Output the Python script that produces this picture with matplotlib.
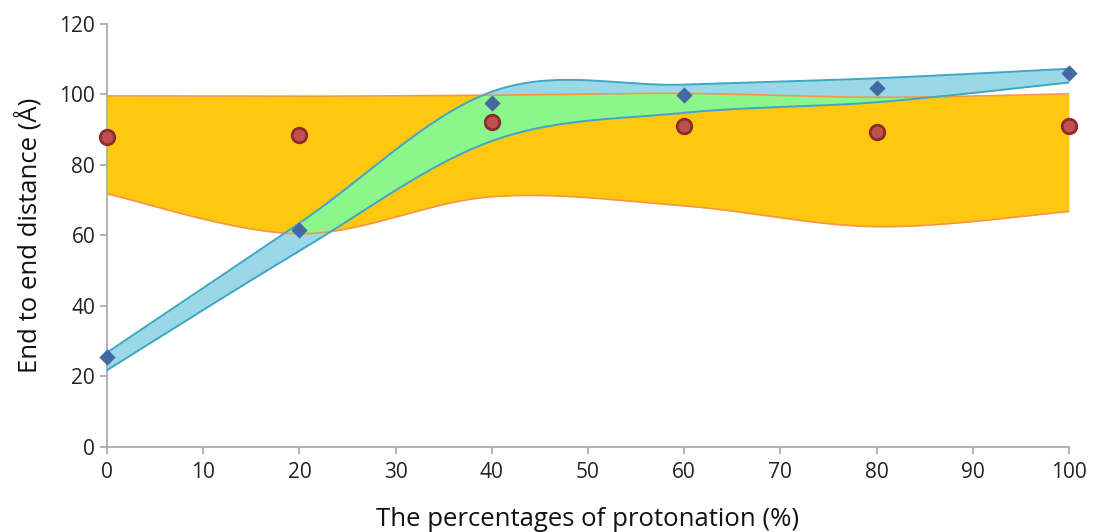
import numpy as np
import matplotlib
matplotlib.use("Agg")
import matplotlib.pyplot as plt

plt.rcParams['font.family'] = ['Open Sans', 'DejaVu Sans']

# Data
protonation = [0, 20, 40, 60, 80, 100]
orange_upper = [99.6, 99.5, 99.8, 100.3, 99.2, 100.2]
orange_lower = [71.8, 60.5, 71.0, 68.4, 62.5, 66.8]
blue_upper = [26.8, 63.5, 100.8, 102.8, 104.6, 107.3]
blue_lower = [21.8, 55.6, 86.8, 94.8, 97.8, 103.4]
diamond_vals = [25.5, 61.5, 97.5, 99.8, 101.8, 106.2]
circle_vals = [87.9, 88.5, 92.3, 91.1, 89.3, 91.1]

xticks = [0, 10, 20, 30, 40, 50, 60, 70, 80, 90, 100]
yticks = [0, 20, 40, 60, 80, 100, 120]


def smooth(xs, ys, n=60):
    """Excel-style smoothed line (Catmull-Rom Bezier), returns dense x,y."""
    P = np.column_stack([xs, ys]).astype(float)
    out = []
    m = len(P)
    for i in range(m - 1):
        p0 = P[i - 1] if i > 0 else P[i]
        p1 = P[i]
        p2 = P[i + 1]
        p3 = P[i + 2] if i + 2 < m else P[i + 1]
        c1 = p1 + (p2 - p0) / 6.0
        c2 = p2 - (p3 - p1) / 6.0
        t = np.linspace(0, 1, n)[:, None]
        seg = ((1 - t) ** 3) * p1 + 3 * ((1 - t) ** 2) * t * c1 + 3 * (1 - t) * t ** 2 * c2 + t ** 3 * p2
        if i > 0:
            seg = seg[1:]
        out.append(seg)
    out = np.vstack(out)
    return out[:, 0], out[:, 1]


xg = np.linspace(0, 100, 2001)

def on_grid(xs, ys):
    sx, sy = smooth(xs, ys)
    order = np.argsort(sx)
    return np.interp(xg, sx[order], sy[order])

ou = on_grid(protonation, orange_upper)
ol = on_grid(protonation, orange_lower)
bu = on_grid(protonation, blue_upper)
bl = on_grid(protonation, blue_lower)

fig = plt.figure(figsize=(10.94, 5.32), dpi=100)
ax = fig.add_axes([0.0978, 0.1598, 0.8793, 0.7951])

orange = "#FFC710"
blue = "#9AD8E8"
green = "#8CF58C"

ax.fill_between(xg, ol, ou, color=orange, lw=0, zorder=1)
ax.fill_between(xg, bl, bu, color=blue, lw=0, zorder=2)
lo = np.maximum(ol, bl)
hi = np.minimum(ou, bu)
ax.fill_between(xg, lo, hi, where=hi > lo, color=green, lw=0, zorder=3, interpolate=True)

ax.plot(xg, ou, color="#F79646", lw=1.2, zorder=4)
ax.plot(xg, ol, color="#F79646", lw=1.2, zorder=4)
ax.plot(xg, bu, color="#3FA6C4", lw=1.4, zorder=5)
ax.plot(xg, bl, color="#3FA6C4", lw=1.4, zorder=5)

ax.scatter(protonation, circle_vals, s=110, color="#C0504D", edgecolor="#8C2B2B",
           linewidth=2, zorder=6, clip_on=False)
ax.scatter(protonation, diamond_vals, s=60, marker="D", color="#44679F",
           edgecolor="#44679F", linewidth=0.5, zorder=7, clip_on=False)

ax.set_xlim(0, 100)
ax.set_ylim(0, 120)
ax.set_xticks(xticks)
ax.set_yticks(yticks)
for s in ["top", "right"]:
    ax.spines[s].set_visible(False)
for s in ["left", "bottom"]:
    ax.spines[s].set_color("#A6A6A6")
    ax.spines[s].set_linewidth(1.2)
ax.tick_params(axis="both", colors="#A6A6A6", labelcolor="#222222", labelsize=15,
               length=5, width=1.2, direction="out")
ax.tick_params(axis="x", pad=6)
ax.set_xlabel("The percentages of protonation (%)", fontsize=18.5, color="#111111", labelpad=17)
ax.set_ylabel("End to end distance (Å)", fontsize=18.5, color="#111111", labelpad=12)

fig.savefig("out.png", dpi=100)
